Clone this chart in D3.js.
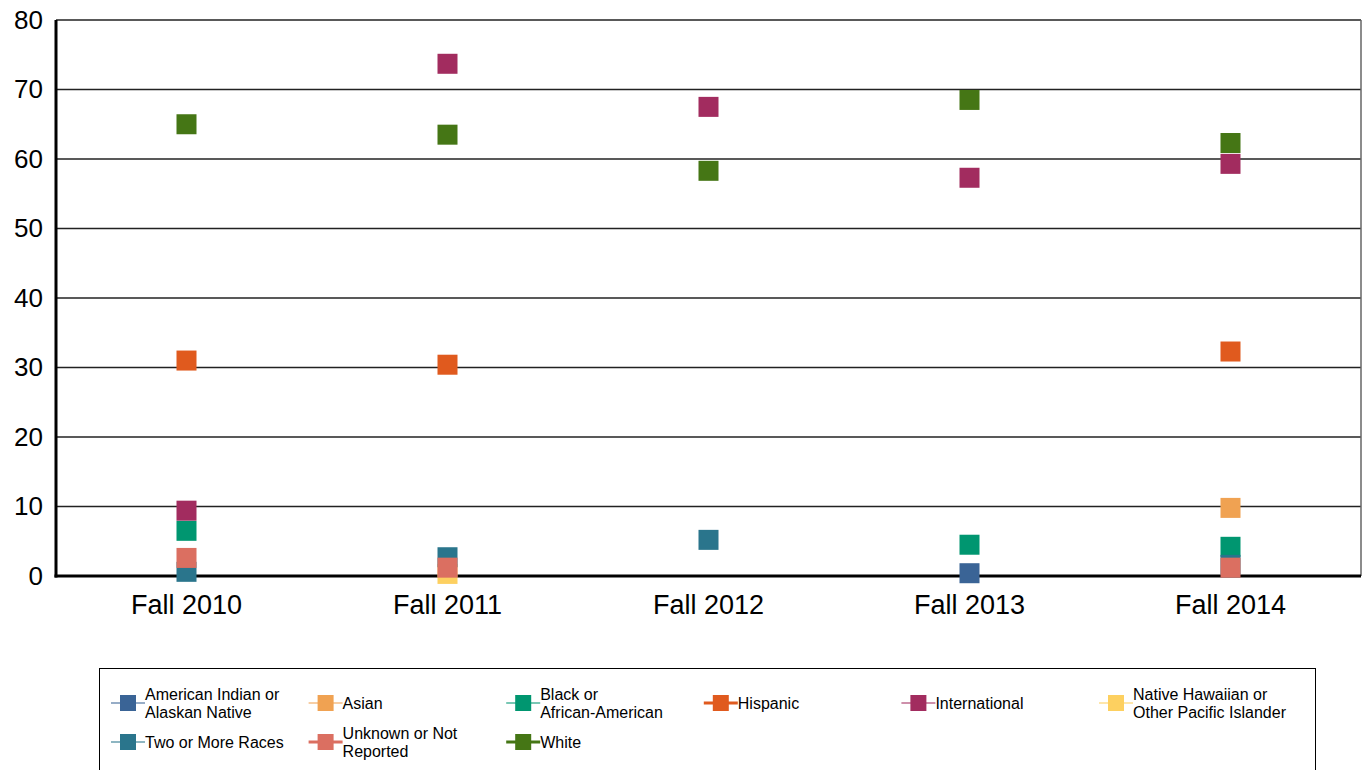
<!DOCTYPE html>
<html>
<head>
<meta charset="utf-8">
<script src="https://cdn.jsdelivr.net/npm/d3@7"></script>
<style>
  body { margin: 0; background: #fff; }
  svg text { font-family: "Liberation Sans", Arial, sans-serif; }
</style>
</head>
<body>
<div id="my_dataviz"></div>
<script>
// categories and tick labels
var years = ["Fall 2010", "Fall 2011", "Fall 2012", "Fall 2013", "Fall 2014"];
var yTicks = [0, 10, 20, 30, 40, 50, 60, 70, 80];

// series (legend order = drawing order)
var seriesNames = ["American Indian or\nAlaskan Native", "Asian", "Black or\nAfrican-American", "Hispanic",
  "International", "Native Hawaiian or\nOther Pacific Islander", "Two or More Races",
  "Unknown or Not\nReported", "White"];
var seriesColors = ["#3a6496", "#f0a252", "#009670", "#e05a1e", "#a22c5f", "#fdd060", "#2a758c", "#db6f61", "#457615"];

// values per series, one per year (null = no marker)
var americanIndian = [null, null, null, 0.4, null];
var asian          = [null, null, null, null, 9.8];
var black          = [6.5, null, null, 4.5, 4.2];
var hispanic       = [31.0, 30.4, null, null, 32.3];
var international  = [9.4, 73.7, 67.5, 57.3, 59.3];
var nativeHawaiian = [null, 0.3, null, null, null];
var twoOrMore      = [0.6, 2.7, 5.2, null, 1.6];
var unknown        = [2.6, 1.2, null, null, 1.2];
var white          = [65.0, 63.5, 58.3, 68.5, 62.3];

var seriesValues = [americanIndian, asian, black, hispanic, international, nativeHawaiian, twoOrMore, unknown, white];
var thickLegend = [false, false, false, true, false, false, false, true, true];

var W = 1364, H = 770;
var margin = {top: 20, right: 3, bottom: 194, left: 56};
var width = W - margin.left - margin.right,
    height = H - margin.top - margin.bottom;

var svg = d3.select("#my_dataviz")
  .append("svg")
  .attr("width", W)
  .attr("height", H);

var g = svg.append("g")
  .attr("transform", "translate(" + margin.left + "," + margin.top + ")");

var x = d3.scaleBand().domain(years).range([0, width]);
var y = d3.scaleLinear().domain([0, 80]).range([height, 0]);

// gridlines
g.append("g")
  .selectAll("line")
  .data(yTicks.filter(function(d) { return d > 0; }))
  .enter().append("line")
  .attr("x1", 0).attr("x2", width)
  .attr("y1", function(d) { return y(d); })
  .attr("y2", function(d) { return y(d); })
  .attr("stroke", "#222")
  .attr("stroke-width", 1.3);

// right border
g.append("line")
  .attr("x1", width).attr("x2", width)
  .attr("y1", 0).attr("y2", height)
  .attr("stroke", "#666").attr("stroke-width", 1.5);

// y axis
var yAxis = g.append("g")
  .call(d3.axisLeft(y).tickValues(yTicks).tickSize(0).tickPadding(13));
yAxis.select(".domain").remove();
yAxis.selectAll("text")
  .style("font-size", "26px")
  .attr("fill", "#000");

// x axis
var xAxis = g.append("g")
  .attr("transform", "translate(0," + height + ")")
  .call(d3.axisBottom(x).tickSize(0).tickPadding(19));
xAxis.select(".domain").remove();
xAxis.selectAll("text")
  .style("font-size", "27px")
  .attr("fill", "#000");

// axis lines
g.append("line")
  .attr("x1", 0).attr("x2", 0).attr("y1", 0).attr("y2", height + 1.5)
  .attr("stroke", "#000").attr("stroke-width", 3);
g.append("line")
  .attr("x1", -1.5).attr("x2", width).attr("y1", height).attr("y2", height)
  .attr("stroke", "#000").attr("stroke-width", 3);

// markers
var size = 20;
seriesValues.forEach(function(vals, i) {
  var pts = years.map(function(yr, j) { return {year: yr, value: vals[j]}; })
    .filter(function(d) { return d.value !== null; });
  g.append("g")
    .selectAll("rect")
    .data(pts)
    .enter().append("rect")
    .attr("x", function(d) { return x(d.year) + x.bandwidth() / 2 - size / 2; })
    .attr("y", function(d) { return y(d.value) - size / 2; })
    .attr("width", size)
    .attr("height", size)
    .attr("fill", seriesColors[i]);
});

// legend
var legend = svg.append("g");
legend.append("rect")
  .attr("x", 99.5).attr("y", 668.5)
  .attr("width", 1216).attr("height", 120)
  .attr("fill", "none")
  .attr("stroke", "#000")
  .attr("stroke-width", 1);

var colW = 197.6, col0 = 128, row0 = 703, rowH = 39;
seriesNames.forEach(function(name, i) {
  var cx = col0 + (i % 6) * colW;
  var cy = row0 + Math.floor(i / 6) * rowH;
  var item = legend.append("g");
  item.append("line")
    .attr("x1", cx - 17).attr("x2", cx + 17)
    .attr("y1", cy).attr("y2", cy)
    .attr("stroke", seriesColors[i])
    .attr("stroke-opacity", thickLegend[i] ? 1 : 0.7)
    .attr("stroke-width", thickLegend[i] ? 3 : 1.5);
  item.append("rect")
    .attr("x", cx - 8).attr("y", cy - 8)
    .attr("width", 16).attr("height", 16)
    .attr("fill", seriesColors[i]);
  var lines = name.split("\n");
  var t = item.append("text")
    .attr("x", cx + 17)
    .attr("y", cy)
    .style("font-size", "16px")
    .attr("fill", "#000");
  lines.forEach(function(l, k) {
    t.append("tspan")
      .attr("x", cx + 17)
      .attr("dy", k === 0 ? (lines.length === 1 ? "0.35em" : (0.35 - 0.56) + "em") : "1.12em")
      .text(l);
  });
});
</script>
</body>
</html>
